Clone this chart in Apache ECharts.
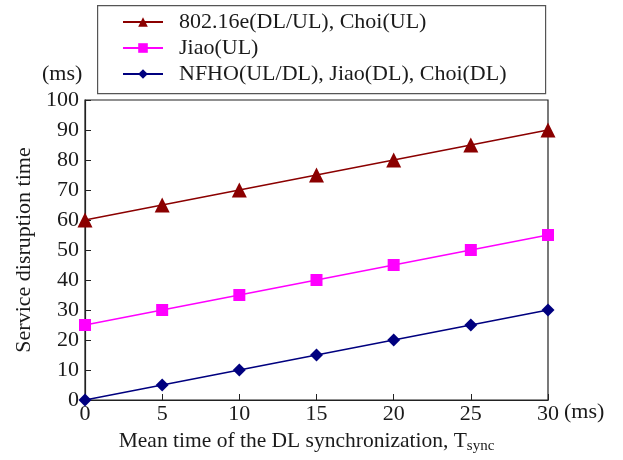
<!DOCTYPE html>
<html>
<head>
<meta charset="utf-8">
<script src="https://cdn.jsdelivr.net/npm/echarts@6/dist/echarts.min.js"></script>
<style>
  html, body { margin: 0; padding: 0; background: #fff; }
  #chart { width: 623px; height: 460px; }
</style>
</head>
<body>
<div id="chart"></div>
<script>
// Mean DL synchronization time (ms)
const syncTimes = [0, 5, 10, 15, 20, 25, 30];

// Service disruption time (ms) per scheme
const names = [
  '802.16e(DL/UL), Choi(UL)',
  'Jiao(UL)',
  'NFHO(UL/DL), Jiao(DL), Choi(DL)'
];
const ieeeChoiUL = [60, 65, 70, 75, 80, 85, 90];
const jiaoUL = [25, 30, 35, 40, 45, 50, 55];
const nfhoDL = [0, 5, 10, 15, 20, 25, 30];

const yTicks = [0, 10, 20, 30, 40, 50, 60, 70, 80, 90, 100];

const FONT = '"Liberation Serif", "Times New Roman", serif';
const TXT = '#1a1a1a';

const pairs = ys => syncTimes.map((x, i) => [x, ys[i]]);

const chart = echarts.init(document.getElementById('chart'), null, { renderer: 'canvas' });

function mkSeries(name, data, color, symbol, size) {
  return {
    name, type: 'line', data: pairs(data),
    symbol, symbolSize: size,
    lineStyle: { color, width: 1.5 },
    itemStyle: { color },
    animation: false
  };
}

chart.setOption({
  backgroundColor: '#fff',
  animation: false,
  grid: {
    left: 85, right: 75, top: 100, bottom: 60,
    show: true, borderColor: '#222', borderWidth: 1.2,
    containLabel: false
  },
  legend: {
    orient: 'vertical',
    left: 122, top: 11,
    itemWidth: 40, itemHeight: 12, itemGap: 4,
    padding: 0,
    textStyle: { fontFamily: FONT, fontSize: 22, lineHeight: 22, color: TXT, padding: [0, 0, 0, 11] },
    data: names
  },
  xAxis: {
    type: 'value', min: 0, max: 30, interval: 5,
    axisLine: { lineStyle: { color: '#222', width: 1.2 } },
    axisTick: { inside: true, length: 6, lineStyle: { color: '#222' } },
    splitLine: { show: false },
    axisLabel: { fontFamily: FONT, fontSize: 22, color: TXT, margin: 3 },
    name: '{m|Mean time of the DL synchronization, T}{s|sync}',
    nameLocation: 'middle',
    nameGap: 29,
    nameTextStyle: {
      rich: {
        m: { fontFamily: FONT, fontSize: 21.5, color: TXT },
        s: { fontFamily: FONT, fontSize: 15, color: TXT, padding: [10, 20, 0, 0] }
      }
    }
  },
  yAxis: {
    type: 'value', min: 0, max: 100, interval: 10,
    axisLine: { show: true, lineStyle: { color: '#222', width: 1.2 } },
    axisTick: { show: true, inside: true, length: 6, lineStyle: { color: '#222' } },
    splitLine: { show: false },
    axisLabel: {
      fontFamily: FONT, fontSize: 22, color: TXT, margin: 6,
      formatter: v => (yTicks.includes(v) ? String(v) : '')
    },
    name: 'Service disruption time',
    nameLocation: 'middle',
    nameGap: 48,
    nameTextStyle: { fontFamily: FONT, fontSize: 22, color: TXT }
  },
  graphic: [
    {
      type: 'rect', left: 97, top: 5, z: -1,
      shape: { width: 448, height: 88 },
      style: { fill: '#fff', stroke: '#555', lineWidth: 1.2 }
    },
    {
      type: 'text', left: 42, top: 63,
      style: { text: '(ms)', font: '22px ' + FONT, fill: TXT }
    },
    {
      type: 'text', left: 564, top: 401,
      style: { text: '(ms)', font: '22px ' + FONT, fill: TXT }
    }
  ],
  series: [
    mkSeries(names[0], ieeeChoiUL, '#8b0000', 'triangle', 15),
    mkSeries(names[1], jiaoUL, '#ff00ff', 'rect', 12),
    mkSeries(names[2], nfhoDL, '#00007f', 'diamond', 13)
  ]
});
</script>
</body>
</html>
